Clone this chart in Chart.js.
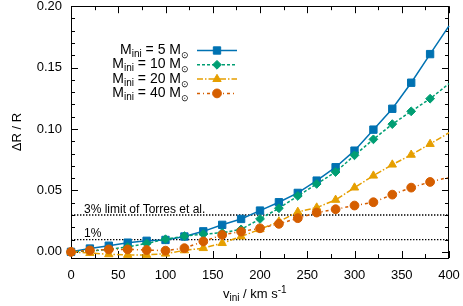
<!DOCTYPE html>
<html><head><meta charset="utf-8">
<script src="https://cdn.jsdelivr.net/npm/chart.js@4.4.0/dist/chart.umd.min.js"></script>
<style>html,body{margin:0;padding:0;background:#fff}#wrap{width:463px;height:306px}</style>
</head><body><div id="wrap"><canvas id="c" width="463" height="306"></canvas></div>
<script>
// ---- data ----
const vini = [0,20,40,60,80,100,120,140,160,180,200,220,240,260,280,300,320,340,360,380,400];
const dR_M5  = [0.0,0.0027,0.005,0.0075,0.009,0.0097,0.0125,0.0167,0.022,0.0268,0.0336,0.0404,0.048,0.058,0.0689,0.0824,0.0995,0.1165,0.1377,0.161,0.184];
const dR_M10 = [0.0,0.0008,0.002,0.004,0.0068,0.0103,0.0128,0.0145,0.0155,0.0183,0.0268,0.0355,0.0455,0.0553,0.065,0.0786,0.0916,0.104,0.1144,0.1247,0.137];
const dR_M20 = [0.0,-0.001,-0.002,-0.0025,-0.0025,-0.0015,0.0012,0.003,0.0071,0.0125,0.0184,0.0247,0.0325,0.036,0.0423,0.0523,0.062,0.071,0.079,0.0878,0.097];
const dR_M40 = [0.0,0.0012,0.002,0.002,0.0015,0.001,0.003,0.0085,0.0138,0.0165,0.0192,0.0228,0.0274,0.032,0.0347,0.0377,0.0404,0.0466,0.0523,0.0569,0.0607];
const masses = ['5','10','20','40'];
const xTickLabels = ['0','50','100','150','200','250','300','350','400'];
const yTickLabels = ['0.00','0.05','0.10','0.15','0.20'];
const limitValues = [0.03, 0.01];
const limitLabels = ['3% limit of Torres et al.', '1%'];

const FONT = '"Liberation Sans", Arial, Helvetica, sans-serif';
const colors = ['#0072B2','#009E73','#E69F00','#D55E00'];
const dashes = [[], [3,2], [6,2,1.5,2], [3,3,1,3]];
const pstyles = ['rect','rectRot','triangle','circle'];
const pradius = [5.2,4.4,4.8,4.4];
const seriesData = [dR_M5, dR_M10, dR_M20, dR_M40];

const datasets = seriesData.map((arr, k) => ({
  label: 'M' + masses[k],
  data: arr.map((y, i) => ({x: vini[i], y})),
  borderColor: colors[k], backgroundColor: colors[k],
  borderWidth: 1.5, borderDash: dashes[k],
  pointStyle: pstyles[k],
  pointRadius: c => c.dataIndex === vini.length - 1 ? 0 : pradius[k],
  pointHoverRadius: c => c.dataIndex === vini.length - 1 ? 0 : pradius[k],
  pointBorderWidth: 1,
  tension: 0, clip: false, order: 3 - k
}));
limitValues.forEach(v => datasets.push({
  label: 'lim' + v,
  data: [{x: 0, y: v}, {x: 400, y: v}],
  borderColor: '#000', borderWidth: 1.4, borderDash: [1.4, 1.6],
  pointRadius: 0, order: 10
}));

function drawRich(ctx, parts, x, y, align) {
  let w = 0;
  parts.forEach(p => { ctx.font = p.size + 'px ' + FONT; p.w = ctx.measureText(p.t).width; w += p.w; });
  let cx = align === 'right' ? x - w : (align === 'center' ? x - w / 2 : x);
  parts.forEach(p => {
    ctx.font = p.size + 'px ' + FONT;
    ctx.fillText(p.t, cx, y + (p.dy || 0));
    cx += p.w;
  });
}

const deco = {
  id: 'deco',
  beforeDatasetsDraw(chart) {
    const {ctx, chartArea: a, scales: {x, y}} = chart;
    ctx.save();
    ctx.strokeStyle = '#000'; ctx.lineWidth = 1;
    ctx.strokeRect(Math.round(a.left) + 0.5, Math.round(a.top) + 0.5, Math.round(a.right - a.left) - 1, Math.round(a.bottom - a.top));
    ctx.beginPath();
    for (let i = 0; i <= 20; i++) {
      const py = Math.round(y.getPixelForValue(i / 100)) + 0.5;
      const L = i % 5 === 0 ? 7 : 4;
      ctx.moveTo(a.left, py); ctx.lineTo(a.left + L, py);
      ctx.moveTo(a.right, py); ctx.lineTo(a.right - L, py);
    }
    for (let v = 0; v <= 400; v += 25) {
      const px = Math.round(x.getPixelForValue(v)) + 0.5;
      const L = v % 50 === 0 ? 7 : 4;
      ctx.moveTo(px, a.bottom); ctx.lineTo(px, a.bottom - L);
      ctx.moveTo(px, a.top); ctx.lineTo(px, a.top + L);
    }
    ctx.stroke();
    ctx.restore();
  },
  afterDraw(chart) {
    const {ctx, chartArea: a, scales: {x, y}} = chart;
    ctx.save();
    ctx.fillStyle = '#000';
    ctx.textBaseline = 'alphabetic';
    limitValues.forEach((v, i) => {
      ctx.font = '12px ' + FONT;
      ctx.fillText(limitLabels[i], a.left + 13, y.getPixelForValue(v) - 2.5);
    });
    drawRich(ctx, [
      {t: 'v', size: 13}, {t: 'ini', size: 10, dy: 3}, {t: ' / km s', size: 13}, {t: '-1', size: 10, dy: -5}
    ], 223, 298, 'left');
    ctx.save();
    ctx.translate(21, (a.top + a.bottom) / 2);
    ctx.rotate(-Math.PI / 2);
    ctx.font = '13px ' + FONT;
    ctx.textAlign = 'center';
    ctx.fillText('\u0394R / R', 0, 0);
    ctx.restore();
    masses.forEach((m, k) => {
      const by = 54 + k * 14.3;
      ctx.fillStyle = '#000';
      drawRich(ctx, [
        {t: 'M', size: 14}, {t: 'ini', size: 10, dy: 3}, {t: ' = ' + m + ' M', size: 14}, {t: '\u2299', size: 9, dy: 4}
      ], 189, by, 'right');
      const ly = by - 3.5;
      ctx.save();
      ctx.strokeStyle = colors[k]; ctx.fillStyle = colors[k];
      ctx.lineWidth = 1.5; ctx.setLineDash(dashes[k]);
      ctx.beginPath(); ctx.moveTo(197, ly); ctx.lineTo(237, ly); ctx.stroke();
      ctx.setLineDash([]); ctx.lineWidth = 1;
      Chart.helpers.drawPoint(ctx, {pointStyle: pstyles[k], radius: pradius[k], rotation: 0, borderWidth: 1}, 217, ly);
      ctx.restore();
    });
    ctx.restore();
  }
};

new Chart(document.getElementById('c'), {
  type: 'line',
  data: {datasets},
  options: {
    responsive: false, animation: false, devicePixelRatio: 1,
    layout: {padding: {left: 0, right: 14, top: 6, bottom: 0}},
    plugins: {legend: {display: false}, tooltip: {enabled: false}},
    scales: {
      x: {
        type: 'linear', min: 0, max: 400,
        afterBuildTicks: s => { s.ticks = xTickLabels.map(t => ({value: parseFloat(t)})); },
        ticks: {callback: (v, i) => xTickLabels[i], font: {family: FONT, size: 13}, color: '#000', padding: 10, maxRotation: 0, autoSkip: false},
        grid: {display: false, drawTicks: false}, border: {display: false},
        afterFit: s => { s.height = 48; s.paddingLeft = 0; s.paddingRight = 0; }
      },
      y: {
        type: 'linear', min: -0.005, max: 0.2,
        afterBuildTicks: s => { s.ticks = yTickLabels.map(t => ({value: parseFloat(t)})); },
        ticks: {callback: (v, i) => yTickLabels[i], font: {family: FONT, size: 13}, color: '#000', padding: 9, autoSkip: false},
        grid: {display: false, drawTicks: false}, border: {display: false},
        afterFit: s => { s.width = 71; s.paddingTop = 0; s.paddingBottom = 0; }
      }
    }
  },
  plugins: [deco]
});
</script>
</body></html>
